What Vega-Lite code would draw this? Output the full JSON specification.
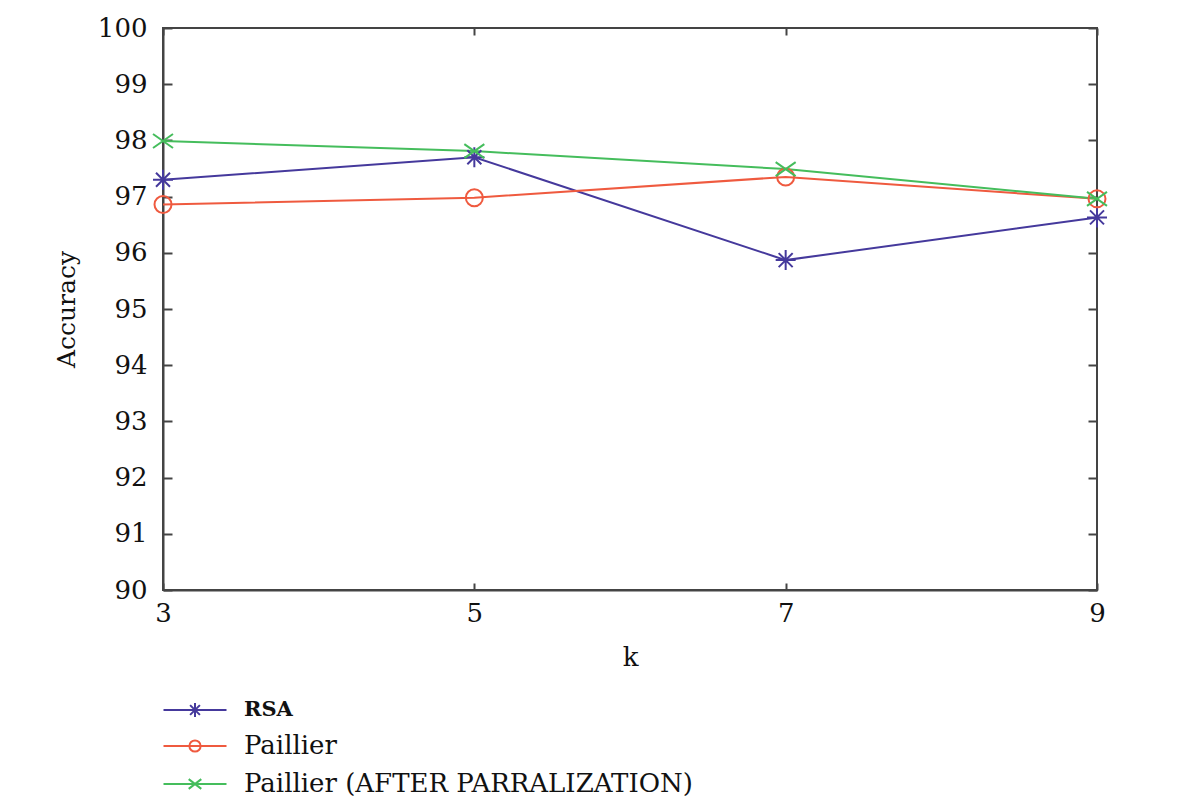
{
  "$schema": "https://vega.github.io/schema/vega-lite/v6.json",
  "autosize": "none",
  "width": 934,
  "height": 562,
  "padding": {"left": 163, "top": 28, "right": 85, "bottom": 211},
  "background": "white",
  "config": {
    "view": {"stroke": "#444", "strokeWidth": 2},
    "font": "DejaVu Serif",
    "axis": {"labelFont": "DejaVu Serif", "titleFont": "DejaVu Serif", "labelColor": "#111", "titleColor": "#111", "domainColor": "#444", "domainWidth": 2, "tickColor": "#444", "tickWidth": 2, "grid": false}
  },
  "data": {"values": [
    {"k": 3, "acc": 97.3, "method": "RSA"},
    {"k": 5, "acc": 97.7, "method": "RSA"},
    {"k": 7, "acc": 95.87, "method": "RSA"},
    {"k": 9, "acc": 96.63, "method": "RSA"},
    {"k": 3, "acc": 96.86, "method": "Paillier"},
    {"k": 5, "acc": 96.98, "method": "Paillier"},
    {"k": 7, "acc": 97.35, "method": "Paillier"},
    {"k": 9, "acc": 96.96, "method": "Paillier"},
    {"k": 3, "acc": 97.99, "method": "Paillier (AFTER PARRALIZATION)"},
    {"k": 5, "acc": 97.81, "method": "Paillier (AFTER PARRALIZATION)"},
    {"k": 7, "acc": 97.49, "method": "Paillier (AFTER PARRALIZATION)"},
    {"k": 9, "acc": 96.96, "method": "Paillier (AFTER PARRALIZATION)"}
  ]},
  "layer": [
    {
      "mark": {"type": "line", "strokeWidth": 2},
      "encoding": {
        "x": {"field": "k", "type": "quantitative", "scale": {"domain": [3, 9], "nice": false, "zero": false},
          "axis": {"orient": "bottom", "values": [3, 5, 7, 9], "title": "k", "labelFontSize": 26, "titleFontSize": 26, "titleFontWeight": "normal", "tickSize": -7, "labelPadding": 17, "titlePadding": 18, "labelFlush": false}},
        "y": {"field": "acc", "type": "quantitative", "scale": {"domain": [90, 100], "nice": false, "zero": false},
          "axis": {"orient": "left", "values": [90, 91, 92, 93, 94, 95, 96, 97, 98, 99, 100], "title": "Accuracy", "labelFontSize": 26, "titleFontSize": 25, "titleFontWeight": "normal", "tickSize": -9, "labelPadding": 25, "titlePadding": 18, "labelFlush": false}},
        "color": {"field": "method", "type": "nominal",
          "scale": {"domain": ["RSA", "Paillier", "Paillier (AFTER PARRALIZATION)"], "range": ["#45399c", "#ef5a3f", "#45bd5c"]},
          "legend": {
            "orient": "none", "legendX": 19, "legendY": 669, "title": null, "padding": 0,
            "symbolSize": 196, "symbolStrokeWidth": 2, "symbolFillColor": "transparent",
            "labelFont": "DejaVu Serif", "labelFontSize": 26, "labelColor": "#111", "labelOffset": 36, "rowPadding": 12, "labelLimit": 800,
            "encode": {
              "symbols": {"update": {"shape": {"signal": "datum.value === 'RSA' ? 'M-4.5,0H4.5M-1,0H1M0,-1V1M-0.7,-0.7L0.7,0.7M-0.7,0.7L0.7,-0.7' : datum.value === 'Paillier' ? 'M-4.5,0H4.5M0.8,0A0.8,0.8 0 1,1 -0.8,0A0.8,0.8 0 1,1 0.8,0Z' : 'M-4.5,0H4.5M-0.9,-0.7L0.9,0.7M-0.9,0.7L0.9,-0.7'"}, "fill": {"value": "transparent"}}},
              "labels": {"update": {"fontSize": {"signal": "datum.value === 'RSA' ? 21 : 26"}, "fontWeight": {"signal": "datum.value === 'RSA' ? 'bold' : 'normal'"}}}
            }
          }}
      }
    },
    {
      "transform": [{"filter": "datum.method === 'RSA'"}],
      "mark": {"type": "point", "filled": false, "strokeWidth": 2, "size": 400, "opacity": 1, "color": "#45399c", "shape": "M-1,0H1M0,-1V1M-0.7,-0.7L0.7,0.7M-0.7,0.7L0.7,-0.7"},
      "encoding": {
        "x": {"field": "k", "type": "quantitative", "axis": null},
        "y": {"field": "acc", "type": "quantitative", "axis": null}
      }
    },
    {
      "transform": [{"filter": "datum.method === 'Paillier'"}],
      "mark": {"type": "point", "filled": false, "strokeWidth": 2, "size": 400, "opacity": 1, "color": "#ef5a3f", "shape": "M0.85,0A0.85,0.85 0 1,1 -0.85,0A0.85,0.85 0 1,1 0.85,0Z"},
      "encoding": {
        "x": {"field": "k", "type": "quantitative", "axis": null},
        "y": {"field": "acc", "type": "quantitative", "axis": null}
      }
    },
    {
      "transform": [{"filter": "datum.method === 'Paillier (AFTER PARRALIZATION)'"}],
      "mark": {"type": "point", "filled": false, "strokeWidth": 2, "size": 400, "opacity": 1, "color": "#45bd5c", "shape": "M-1,-0.7L1,0.7M-1,0.7L1,-0.7"},
      "encoding": {
        "x": {"field": "k", "type": "quantitative", "axis": null},
        "y": {"field": "acc", "type": "quantitative", "axis": null}
      }
    },
    {
      "mark": {"type": "point", "opacity": 0},
      "encoding": {
        "x": {"field": "k", "type": "quantitative", "axis": {"orient": "top", "values": [3, 5, 7, 9], "labels": false, "title": null, "tickSize": -7, "domain": false}},
        "y": {"field": "acc", "type": "quantitative", "axis": {"orient": "right", "values": [90, 91, 92, 93, 94, 95, 96, 97, 98, 99, 100], "labels": false, "title": null, "tickSize": -9, "domain": false}}
      }
    }
  ],
  "resolve": {"axis": {"x": "independent", "y": "independent"}}
}
